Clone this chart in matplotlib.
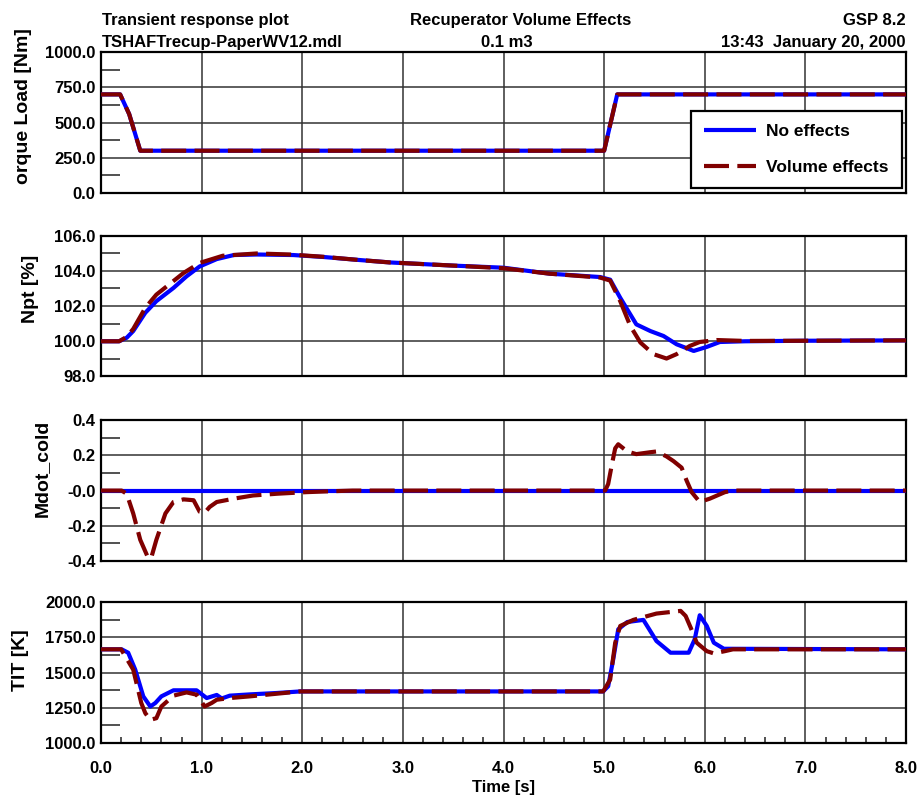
import numpy as np
import matplotlib
matplotlib.use('Agg')
import matplotlib.pyplot as plt
from matplotlib.ticker import MultipleLocator

plt.rcParams['font.family'] = ['Liberation Sans', 'DejaVu Sans']
plt.rcParams['font.weight'] = 'bold'

# %%
# Data
load_t = [0, 0.19, 0.28, 0.39, 5.0, 5.13, 8.0]
load_v = [700, 700, 560, 300, 300, 700, 700]

npt_t_none = [0, 0.18, 0.255, 0.32, 0.44, 0.55, 0.72, 0.85, 0.98, 1.15, 1.32, 1.55, 1.91, 2.21,
              2.54, 2.87, 3.5, 4.0, 4.46, 4.96, 5.06, 5.16, 5.32, 5.46, 5.59, 5.72, 5.89, 6.02,
              6.15, 6.4, 7.0, 8.0]
npt_none = [100.0, 100.0, 100.2, 100.58, 101.62, 102.28, 103.03, 103.69, 104.25, 104.67, 104.9,
            104.93, 104.9, 104.79, 104.63, 104.48, 104.3, 104.18, 103.84, 103.65, 103.5, 102.47,
            100.96, 100.58, 100.3, 99.83, 99.45, 99.68, 99.96, 100.0, 100.03, 100.05]
npt_t_vol = [0, 0.18, 0.255, 0.32, 0.44, 0.55, 0.82, 0.98, 1.21, 1.55, 1.88, 2.21, 2.54, 2.87,
             3.5, 4.0, 4.46, 4.96, 5.06, 5.16, 5.26, 5.36, 5.49, 5.62, 5.72, 5.85, 5.95, 6.12,
             6.4, 7.0, 8.0]
npt_vol = [100.0, 100.0, 100.25, 100.7, 101.9, 102.65, 103.88, 104.45, 104.86, 104.99, 104.93,
           104.8, 104.63, 104.48, 104.3, 104.15, 103.84, 103.62, 103.45, 102.28, 100.87, 99.93,
           99.27, 99.02, 99.27, 99.73, 99.96, 100.07, 100.02, 100.03, 100.05]

mdot_t_none = [0, 8.0]
mdot_none = [0, 0]
mdot_t_vol = [0, 0.205, 0.255, 0.32, 0.39, 0.47, 0.5, 0.55, 0.64, 0.72, 0.82, 0.92, 0.98, 1.03,
              1.08, 1.15, 1.32, 1.51, 1.75, 2.04, 2.28, 2.5, 5.01, 5.04, 5.08, 5.11, 5.14, 5.23,
              5.32, 5.46, 5.52, 5.62, 5.69, 5.77, 5.82, 5.87, 5.95, 6.05, 6.2, 6.28, 8.0]
mdot_vol = [0, 0, -0.018, -0.13, -0.28, -0.385, -0.38, -0.28, -0.13, -0.065, -0.05, -0.055,
            -0.12, -0.126, -0.093, -0.065, -0.046, -0.028, -0.018, -0.009, -0.004, 0, 0, 0.037,
            0.157, 0.24, 0.263, 0.222, 0.207, 0.218, 0.222, 0.194, 0.167, 0.13, 0.056, -0.009,
            -0.065, -0.046, -0.009, 0, 0]

tit_t_none = [0, 0.205, 0.27, 0.34, 0.42, 0.49, 0.54, 0.6, 0.72, 0.95, 1.05, 1.15, 1.2, 1.28,
              1.48, 1.75, 1.98, 4.99, 5.04, 5.09, 5.14, 5.23, 5.39, 5.52, 5.66, 5.84, 5.9, 5.95,
              6.02, 6.09, 6.19, 8.0]
tit_none = [1665, 1665, 1641, 1521, 1331, 1259, 1284, 1331, 1374, 1374, 1319, 1341, 1316, 1336,
            1345, 1355, 1366, 1366, 1402, 1593, 1807, 1859, 1874, 1724, 1641, 1641, 1736, 1907,
            1831, 1712, 1669, 1665]
tit_t_vol = [0, 0.2, 0.32, 0.40, 0.44, 0.49, 0.55, 0.6, 0.72, 0.85, 0.95, 1.03, 1.1, 1.15, 1.28,
             1.48, 1.75, 1.98, 4.99, 5.06, 5.11, 5.16, 5.29, 5.52, 5.76, 5.81, 5.86, 5.92, 6.02,
             6.09, 6.2, 6.28, 8.0]
tit_vol = [1665, 1665, 1521, 1284, 1212, 1164, 1176, 1259, 1336, 1359, 1343, 1259, 1284, 1307,
           1319, 1331, 1350, 1366, 1366, 1450, 1712, 1831, 1874, 1919, 1938, 1902, 1819, 1712,
           1652, 1636, 1652, 1665, 1665]

# Axis settings per panel
ylabels = ['orque Load [Nm]', 'Npt [%]', 'Mdot_cold', 'TIT [K]']
ylims = [(0, 1000), (98, 106), (-0.4, 0.4), (1000, 2000)]
ysteps = [250, 2, 0.2, 250]
yticklabels = [['0.0', '250.0', '500.0', '750.0', '1000.0'],
               ['98.0', '100.0', '102.0', '104.0', '106.0'],
               ['-0.4', '-0.2', '-0.0', '0.2', '0.4'],
               ['1000.0', '1250.0', '1500.0', '1750.0', '2000.0']]
xticklabels = ['0.0', '1.0', '2.0', '3.0', '4.0', '5.0', '6.0', '7.0', '8.0']

series = [((load_t, load_v), (load_t, load_v)),
          ((npt_t_none, npt_none), (npt_t_vol, npt_vol)),
          ((mdot_t_none, mdot_none), (mdot_t_vol, mdot_vol)),
          ((tit_t_none, tit_none), (tit_t_vol, tit_vol))]

# %%
fig = plt.figure(figsize=(9.2, 8), dpi=100)

# panel positions (figure fractions)
left, width, height = 0.1098, 0.875, 0.176
bottoms = [0.7588, 0.5294, 0.2988, 0.0713]
label_pos = [(0.026, 0.867), (0.033, 0.639), (0.046, 0.414), (0.022, 0.175)]

blue = '#0000ff'
red = '#800000'

axes = []
for i in range(4):
    ax = fig.add_axes([left, bottoms[i], width, height])
    axes.append(ax)
    (tn, vn), (tv, vv) = series[i]
    ax.plot(tn, vn, color=blue, lw=3.0, solid_capstyle='butt', label='No effects', zorder=3)
    ax.plot(tv, vv, color=red, lw=3.0, dashes=(6.0, 2.0), dash_capstyle='butt',
            label='Volume effects', zorder=4)

    lo, hi = ylims[i]
    ax.set_xlim(0, 8)
    ax.set_ylim(lo, hi)
    ax.set_yticks(np.linspace(lo, hi, 5))
    ax.set_yticklabels(yticklabels[i])
    ax.yaxis.set_minor_locator(MultipleLocator(ysteps[i] / 2))
    ax.set_xticks(np.arange(0, 9, 1))
    ax.grid(True, which='major', color='#333333', lw=1.1)
    ax.tick_params(axis='y', which='major', length=0, pad=4, labelsize=12)
    ax.tick_params(axis='y', which='minor', direction='in', length=14, width=1.1,
                   color='#222222', left=True, right=False)
    ax.tick_params(axis='x', which='major', length=0, pad=13, labelsize=12)
    for s in ax.spines.values():
        s.set_linewidth(1.6)
        s.set_color('black')
    for lab in ax.get_yticklabels() + ax.get_xticklabels():
        lab.set_fontweight('bold')

    if i < 3:
        ax.tick_params(axis='x', labelbottom=False)
    else:
        ax.set_xticklabels(xticklabels)
        ax.xaxis.set_minor_locator(MultipleLocator(0.2))
        ax.tick_params(axis='x', which='minor', direction='in', length=4, width=1.1,
                       color='#222222', bottom=True, top=False)
        ax.set_xlabel('Time [s]', fontsize=12, fontweight='bold', labelpad=3)

    fig.text(label_pos[i][0], label_pos[i][1], ylabels[i], rotation=90, fontsize=14,
             fontweight='bold', ha='center', va='center')

leg = axes[0].legend(loc='lower right', bbox_to_anchor=(0.995, 0.036), fontsize=12.5,
                     frameon=True, fancybox=False, framealpha=1, edgecolor='black',
                     handlelength=3.0, handletextpad=0.6, labelspacing=1.2,
                     borderpad=0.75, borderaxespad=0)
leg.get_frame().set_linewidth(1.6)
for txt in leg.get_texts():
    txt.set_fontweight('bold')

# header
hdr = dict(fontsize=12, fontweight='bold')
fig.text(0.111, 0.974, 'Transient response plot', ha='left', va='center', **hdr)
fig.text(0.566, 0.974, 'Recuperator Volume Effects', ha='center', va='center', **hdr)
fig.text(0.984, 0.974, 'GSP 8.2', ha='right', va='center', **hdr)
fig.text(0.111, 0.947, 'TSHAFTrecup-PaperWV12.mdl', ha='left', va='center', **hdr)
fig.text(0.551, 0.947, '0.1 m3', ha='center', va='center', **hdr)
fig.text(0.984, 0.947, '13:43  January 20, 2000', ha='right', va='center', **hdr)

fig.savefig('out.png', dpi=100)
plt.close()
